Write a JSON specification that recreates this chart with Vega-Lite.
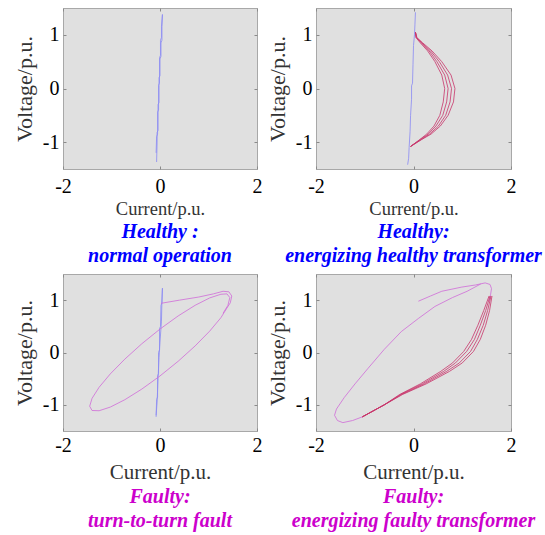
{
  "$schema": "https://vega.github.io/schema/vega-lite/v6.json",
  "background": "white",
  "padding": {"left": 12, "top": 7, "right": 0, "bottom": 0},
  "config": {
    "font": "Liberation Serif",
    "view": {"fill": "#e0e0e0", "stroke": "#a8a8a8", "strokeWidth": 1},
    "axis": {
      "grid": false, "domain": false, "labelFlush": false, "labelOverlap": false,
      "labelFont": "Liberation Serif", "labelFontSize": 20, "labelColor": "#000000",
      "tickColor": "#8a8a8a", "tickSize": -3, "labelPadding": 7,
      "titleFont": "Liberation Serif", "titleFontWeight": "normal", "titleColor": "#333333",
      "labelExpr": "replace(datum.label, '\u2212', '-')"
    },
    "title": {"font": "Liberation Serif", "fontSize": 20, "fontStyle": "italic", "fontWeight": "bold", "lineHeight": 24, "anchor": "middle", "orient": "bottom", "offset": 5}
  },
  "datasets": {
    "p1": [
      {"k": "b", "s": "b", "i": 0, "x": -0.07, "y": -1.37},
      {"k": "b", "s": "b", "i": 1, "x": -0.06, "y": -1.0},
      {"k": "b", "s": "b", "i": 2, "x": -0.06, "y": -0.82},
      {"k": "b", "s": "b", "i": 3, "x": -0.04, "y": -0.78},
      {"k": "b", "s": "b", "i": 4, "x": -0.04, "y": -0.3},
      {"k": "b", "s": "b", "i": 5, "x": -0.02, "y": -0.26},
      {"k": "b", "s": "b", "i": 6, "x": -0.02, "y": 0.2},
      {"k": "b", "s": "b", "i": 7, "x": 0.0, "y": 0.24},
      {"k": "b", "s": "b", "i": 8, "x": 0.0, "y": 0.55},
      {"k": "b", "s": "b", "i": 9, "x": 0.02, "y": 0.6},
      {"k": "b", "s": "b", "i": 10, "x": 0.02, "y": 0.85},
      {"k": "b", "s": "b", "i": 11, "x": 0.04, "y": 0.9},
      {"k": "b", "s": "b", "i": 12, "x": 0.04, "y": 1.15},
      {"k": "b", "s": "b", "i": 13, "x": 0.05, "y": 1.38},
      {"k": "b", "s": "b", "i": 14, "x": 0.03, "y": 1.15},
      {"k": "b", "s": "b", "i": 15, "x": 0.03, "y": 0.95},
      {"k": "b", "s": "b", "i": 16, "x": 0.01, "y": 0.9},
      {"k": "b", "s": "b", "i": 17, "x": 0.01, "y": 0.62},
      {"k": "b", "s": "b", "i": 18, "x": -0.01, "y": 0.57},
      {"k": "b", "s": "b", "i": 19, "x": -0.01, "y": 0.1},
      {"k": "b", "s": "b", "i": 20, "x": -0.03, "y": 0.06},
      {"k": "b", "s": "b", "i": 21, "x": -0.03, "y": -0.4},
      {"k": "b", "s": "b", "i": 22, "x": -0.05, "y": -0.44},
      {"k": "b", "s": "b", "i": 23, "x": -0.05, "y": -0.85},
      {"k": "b", "s": "b", "i": 24, "x": -0.07, "y": -0.9},
      {"k": "b", "s": "b", "i": 25, "x": -0.08, "y": -1.2}
    ],
    "p2": [
      {"k": "b", "s": "b", "i": 0, "x": -0.12, "y": -1.42},
      {"k": "b", "s": "b", "i": 1, "x": -0.1, "y": -1.3},
      {"k": "b", "s": "b", "i": 2, "x": -0.09, "y": -1.1},
      {"k": "b", "s": "b", "i": 3, "x": -0.07, "y": -0.8},
      {"k": "b", "s": "b", "i": 4, "x": -0.06, "y": -0.5},
      {"k": "b", "s": "b", "i": 5, "x": -0.04, "y": -0.2},
      {"k": "b", "s": "b", "i": 6, "x": -0.04, "y": 0.05},
      {"k": "b", "s": "b", "i": 7, "x": -0.02, "y": 0.1},
      {"k": "b", "s": "b", "i": 8, "x": -0.01, "y": 0.45},
      {"k": "b", "s": "b", "i": 9, "x": 0.0, "y": 0.8},
      {"k": "b", "s": "b", "i": 10, "x": 0.02, "y": 1.0},
      {"k": "b", "s": "b", "i": 11, "x": 0.03, "y": 1.2},
      {"k": "b", "s": "b", "i": 12, "x": 0.04, "y": 1.42},
      {"k": "r1", "s": "r", "i": 0, "x": 0.04, "y": 1.05},
      {"k": "r1", "s": "r", "i": 1, "x": 0.05, "y": 0.95},
      {"k": "r1", "s": "r", "i": 2, "x": 0.14, "y": 0.85},
      {"k": "r1", "s": "r", "i": 3, "x": 0.29, "y": 0.7},
      {"k": "r1", "s": "r", "i": 4, "x": 0.44, "y": 0.5},
      {"k": "r1", "s": "r", "i": 5, "x": 0.58, "y": 0.25},
      {"k": "r1", "s": "r", "i": 6, "x": 0.64, "y": 0.0},
      {"k": "r1", "s": "r", "i": 7, "x": 0.61, "y": -0.25},
      {"k": "r1", "s": "r", "i": 8, "x": 0.54, "y": -0.5},
      {"k": "r1", "s": "r", "i": 9, "x": 0.42, "y": -0.7},
      {"k": "r1", "s": "r", "i": 10, "x": 0.27, "y": -0.85},
      {"k": "r1", "s": "r", "i": 11, "x": 0.13, "y": -0.95},
      {"k": "r1", "s": "r", "i": 12, "x": -0.06, "y": -1.08},
      {"k": "r2", "s": "r", "i": 0, "x": 0.04, "y": 1.05},
      {"k": "r2", "s": "r", "i": 1, "x": 0.06, "y": 0.95},
      {"k": "r2", "s": "r", "i": 2, "x": 0.16, "y": 0.85},
      {"k": "r2", "s": "r", "i": 3, "x": 0.32, "y": 0.7},
      {"k": "r2", "s": "r", "i": 4, "x": 0.48, "y": 0.5},
      {"k": "r2", "s": "r", "i": 5, "x": 0.64, "y": 0.25},
      {"k": "r2", "s": "r", "i": 6, "x": 0.71, "y": 0.0},
      {"k": "r2", "s": "r", "i": 7, "x": 0.68, "y": -0.25},
      {"k": "r2", "s": "r", "i": 8, "x": 0.6, "y": -0.5},
      {"k": "r2", "s": "r", "i": 9, "x": 0.46, "y": -0.7},
      {"k": "r2", "s": "r", "i": 10, "x": 0.3, "y": -0.85},
      {"k": "r2", "s": "r", "i": 11, "x": 0.14, "y": -0.95},
      {"k": "r2", "s": "r", "i": 12, "x": -0.06, "y": -1.08},
      {"k": "r3", "s": "r", "i": 0, "x": 0.04, "y": 1.05},
      {"k": "r3", "s": "r", "i": 1, "x": 0.06, "y": 0.95},
      {"k": "r3", "s": "r", "i": 2, "x": 0.17, "y": 0.85},
      {"k": "r3", "s": "r", "i": 3, "x": 0.35, "y": 0.7},
      {"k": "r3", "s": "r", "i": 4, "x": 0.53, "y": 0.5},
      {"k": "r3", "s": "r", "i": 5, "x": 0.7, "y": 0.25},
      {"k": "r3", "s": "r", "i": 6, "x": 0.78, "y": 0.0},
      {"k": "r3", "s": "r", "i": 7, "x": 0.75, "y": -0.25},
      {"k": "r3", "s": "r", "i": 8, "x": 0.66, "y": -0.5},
      {"k": "r3", "s": "r", "i": 9, "x": 0.51, "y": -0.7},
      {"k": "r3", "s": "r", "i": 10, "x": 0.33, "y": -0.85},
      {"k": "r3", "s": "r", "i": 11, "x": 0.16, "y": -0.95},
      {"k": "r3", "s": "r", "i": 12, "x": -0.06, "y": -1.08},
      {"k": "r4", "s": "r", "i": 0, "x": 0.04, "y": 1.05},
      {"k": "r4", "s": "r", "i": 1, "x": 0.07, "y": 0.95},
      {"k": "r4", "s": "r", "i": 2, "x": 0.19, "y": 0.85},
      {"k": "r4", "s": "r", "i": 3, "x": 0.38, "y": 0.7},
      {"k": "r4", "s": "r", "i": 4, "x": 0.58, "y": 0.5},
      {"k": "r4", "s": "r", "i": 5, "x": 0.77, "y": 0.25},
      {"k": "r4", "s": "r", "i": 6, "x": 0.85, "y": 0.0},
      {"k": "r4", "s": "r", "i": 7, "x": 0.82, "y": -0.25},
      {"k": "r4", "s": "r", "i": 8, "x": 0.71, "y": -0.5},
      {"k": "r4", "s": "r", "i": 9, "x": 0.55, "y": -0.7},
      {"k": "r4", "s": "r", "i": 10, "x": 0.36, "y": -0.85},
      {"k": "r4", "s": "r", "i": 11, "x": 0.17, "y": -0.95},
      {"k": "r4", "s": "r", "i": 12, "x": -0.06, "y": -1.08}
    ],
    "p3": [
      {"k": "b", "s": "b", "i": 0, "x": -0.08, "y": -1.23},
      {"k": "b", "s": "b", "i": 1, "x": -0.07, "y": -0.9},
      {"k": "b", "s": "b", "i": 2, "x": -0.05, "y": -0.85},
      {"k": "b", "s": "b", "i": 3, "x": -0.05, "y": -0.45},
      {"k": "b", "s": "b", "i": 4, "x": -0.03, "y": -0.4},
      {"k": "b", "s": "b", "i": 5, "x": -0.03, "y": 0.0},
      {"k": "b", "s": "b", "i": 6, "x": -0.01, "y": 0.05},
      {"k": "b", "s": "b", "i": 7, "x": -0.01, "y": 0.45},
      {"k": "b", "s": "b", "i": 8, "x": 0.01, "y": 0.5},
      {"k": "b", "s": "b", "i": 9, "x": 0.02, "y": 0.9},
      {"k": "b", "s": "b", "i": 10, "x": 0.04, "y": 0.95},
      {"k": "b", "s": "b", "i": 11, "x": 0.05, "y": 1.23},
      {"k": "b", "s": "b", "i": 12, "x": 0.04, "y": 1.0},
      {"k": "b", "s": "b", "i": 13, "x": 0.03, "y": 0.6},
      {"k": "b", "s": "b", "i": 14, "x": 0.0, "y": 0.2},
      {"k": "b", "s": "b", "i": 15, "x": -0.02, "y": -0.1},
      {"k": "b", "s": "b", "i": 16, "x": -0.04, "y": -0.5},
      {"k": "b", "s": "b", "i": 17, "x": -0.06, "y": -0.95},
      {"k": "b", "s": "b", "i": 18, "x": -0.08, "y": -1.2},
      {"k": "m", "s": "m", "i": 0, "x": 0.02, "y": 0.94},
      {"k": "m", "s": "m", "i": 1, "x": 0.4, "y": 1.0},
      {"k": "m", "s": "m", "i": 2, "x": 0.8, "y": 1.06},
      {"k": "m", "s": "m", "i": 3, "x": 1.1, "y": 1.12},
      {"k": "m", "s": "m", "i": 4, "x": 1.3, "y": 1.17},
      {"k": "m", "s": "m", "i": 5, "x": 1.42, "y": 1.16},
      {"k": "m", "s": "m", "i": 6, "x": 1.48, "y": 1.08},
      {"k": "m", "s": "m", "i": 7, "x": 1.45, "y": 0.95},
      {"k": "m", "s": "m", "i": 8, "x": 1.38, "y": 0.85},
      {"k": "m", "s": "m", "i": 9, "x": 1.256, "y": 0.665},
      {"k": "m", "s": "m", "i": 10, "x": 1.025, "y": 0.409},
      {"k": "m", "s": "m", "i": 11, "x": 0.725, "y": 0.126},
      {"k": "m", "s": "m", "i": 12, "x": 0.375, "y": -0.167},
      {"k": "m", "s": "m", "i": 13, "x": 0.0, "y": -0.448},
      {"k": "m", "s": "m", "i": 14, "x": -0.375, "y": -0.699},
      {"k": "m", "s": "m", "i": 15, "x": -0.725, "y": -0.902},
      {"k": "m", "s": "m", "i": 16, "x": -1.025, "y": -1.043},
      {"k": "m", "s": "m", "i": 17, "x": -1.256, "y": -1.113},
      {"k": "m", "s": "m", "i": 18, "x": -1.401, "y": -1.108},
      {"k": "m", "s": "m", "i": 19, "x": -1.45, "y": -1.027},
      {"k": "m", "s": "m", "i": 20, "x": -1.401, "y": -0.876},
      {"k": "m", "s": "m", "i": 21, "x": -1.256, "y": -0.665},
      {"k": "m", "s": "m", "i": 22, "x": -1.025, "y": -0.409},
      {"k": "m", "s": "m", "i": 23, "x": -0.725, "y": -0.126},
      {"k": "m", "s": "m", "i": 24, "x": -0.375, "y": 0.167},
      {"k": "m", "s": "m", "i": 25, "x": 0.0, "y": 0.448},
      {"k": "m", "s": "m", "i": 26, "x": 0.375, "y": 0.699},
      {"k": "m", "s": "m", "i": 27, "x": 0.725, "y": 0.902},
      {"k": "m", "s": "m", "i": 28, "x": 1.025, "y": 1.043},
      {"k": "m", "s": "m", "i": 29, "x": 1.256, "y": 1.113},
      {"k": "m", "s": "m", "i": 30, "x": 1.38, "y": 1.12},
      {"k": "m", "s": "m", "i": 31, "x": 1.44, "y": 1.05},
      {"k": "m", "s": "m", "i": 32, "x": 1.4, "y": 0.9},
      {"k": "m", "s": "m", "i": 33, "x": 1.3, "y": 0.75}
    ],
    "p4": [
      {"k": "ma", "s": "m", "i": 0, "x": 0.1, "y": 0.98},
      {"k": "ma", "s": "m", "i": 1, "x": 0.35, "y": 1.08},
      {"k": "ma", "s": "m", "i": 2, "x": 0.58, "y": 1.17},
      {"k": "ma", "s": "m", "i": 3, "x": 0.99, "y": 1.25},
      {"k": "ma", "s": "m", "i": 4, "x": 1.27, "y": 1.29},
      {"k": "ma", "s": "m", "i": 5, "x": 1.47, "y": 1.33},
      {"k": "ma", "s": "m", "i": 6, "x": 1.57, "y": 1.3},
      {"k": "ma", "s": "m", "i": 7, "x": 1.6, "y": 1.22},
      {"k": "ma", "s": "m", "i": 8, "x": 1.58, "y": 1.1},
      {"k": "ma", "s": "m", "i": 9, "x": 1.55, "y": 0.98},
      {"k": "mb", "s": "m", "i": 0, "x": 1.38, "y": 1.31},
      {"k": "mb", "s": "m", "i": 1, "x": 1.1, "y": 1.17},
      {"k": "mb", "s": "m", "i": 2, "x": 0.8, "y": 1.05},
      {"k": "mb", "s": "m", "i": 3, "x": 0.44, "y": 0.88},
      {"k": "mb", "s": "m", "i": 4, "x": 0.1, "y": 0.65},
      {"k": "mb", "s": "m", "i": 5, "x": -0.25, "y": 0.4},
      {"k": "mb", "s": "m", "i": 6, "x": -0.6, "y": 0.06},
      {"k": "mb", "s": "m", "i": 7, "x": -0.93, "y": -0.3},
      {"k": "mb", "s": "m", "i": 8, "x": -1.2, "y": -0.6},
      {"k": "mb", "s": "m", "i": 9, "x": -1.42, "y": -0.86},
      {"k": "mb", "s": "m", "i": 10, "x": -1.58, "y": -1.08},
      {"k": "mb", "s": "m", "i": 11, "x": -1.62, "y": -1.2},
      {"k": "mb", "s": "m", "i": 12, "x": -1.56, "y": -1.3},
      {"k": "mb", "s": "m", "i": 13, "x": -1.45, "y": -1.34},
      {"k": "mb", "s": "m", "i": 14, "x": -1.25, "y": -1.3},
      {"k": "mb", "s": "m", "i": 15, "x": -1.05, "y": -1.23},
      {"k": "r1", "s": "r", "i": 0, "x": -1.05, "y": -1.23},
      {"k": "r1", "s": "r", "i": 1, "x": -0.6, "y": -1.0},
      {"k": "r1", "s": "r", "i": 2, "x": -0.28, "y": -0.8},
      {"k": "r1", "s": "r", "i": 3, "x": 0.14, "y": -0.6},
      {"k": "r1", "s": "r", "i": 4, "x": 0.56, "y": -0.36},
      {"k": "r1", "s": "r", "i": 5, "x": 0.8, "y": -0.2},
      {"k": "r1", "s": "r", "i": 6, "x": 1.03, "y": 0.02},
      {"k": "r1", "s": "r", "i": 7, "x": 1.19, "y": 0.25},
      {"k": "r1", "s": "r", "i": 8, "x": 1.32, "y": 0.52},
      {"k": "r1", "s": "r", "i": 9, "x": 1.44, "y": 0.8},
      {"k": "r1", "s": "r", "i": 10, "x": 1.55, "y": 1.08},
      {"k": "r2", "s": "r", "i": 0, "x": -1.05, "y": -1.23},
      {"k": "r2", "s": "r", "i": 1, "x": -0.6, "y": -1.0},
      {"k": "r2", "s": "r", "i": 2, "x": -0.26, "y": -0.8},
      {"k": "r2", "s": "r", "i": 3, "x": 0.18, "y": -0.6},
      {"k": "r2", "s": "r", "i": 4, "x": 0.62, "y": -0.36},
      {"k": "r2", "s": "r", "i": 5, "x": 0.86, "y": -0.2},
      {"k": "r2", "s": "r", "i": 6, "x": 1.09, "y": 0.02},
      {"k": "r2", "s": "r", "i": 7, "x": 1.25, "y": 0.25},
      {"k": "r2", "s": "r", "i": 8, "x": 1.37, "y": 0.52},
      {"k": "r2", "s": "r", "i": 9, "x": 1.48, "y": 0.8},
      {"k": "r2", "s": "r", "i": 10, "x": 1.57, "y": 1.08},
      {"k": "r3", "s": "r", "i": 0, "x": -1.05, "y": -1.23},
      {"k": "r3", "s": "r", "i": 1, "x": -0.6, "y": -1.0},
      {"k": "r3", "s": "r", "i": 2, "x": -0.24, "y": -0.8},
      {"k": "r3", "s": "r", "i": 3, "x": 0.22, "y": -0.6},
      {"k": "r3", "s": "r", "i": 4, "x": 0.68, "y": -0.36},
      {"k": "r3", "s": "r", "i": 5, "x": 0.94, "y": -0.2},
      {"k": "r3", "s": "r", "i": 6, "x": 1.17, "y": 0.02},
      {"k": "r3", "s": "r", "i": 7, "x": 1.31, "y": 0.25},
      {"k": "r3", "s": "r", "i": 8, "x": 1.43, "y": 0.52},
      {"k": "r3", "s": "r", "i": 9, "x": 1.52, "y": 0.8},
      {"k": "r3", "s": "r", "i": 10, "x": 1.59, "y": 1.08},
      {"k": "r4", "s": "r", "i": 0, "x": -1.05, "y": -1.23},
      {"k": "r4", "s": "r", "i": 1, "x": -0.6, "y": -1.0},
      {"k": "r4", "s": "r", "i": 2, "x": -0.22, "y": -0.8},
      {"k": "r4", "s": "r", "i": 3, "x": 0.26, "y": -0.6},
      {"k": "r4", "s": "r", "i": 4, "x": 0.74, "y": -0.36},
      {"k": "r4", "s": "r", "i": 5, "x": 1.0, "y": -0.2},
      {"k": "r4", "s": "r", "i": 6, "x": 1.23, "y": 0.02},
      {"k": "r4", "s": "r", "i": 7, "x": 1.37, "y": 0.25},
      {"k": "r4", "s": "r", "i": 8, "x": 1.48, "y": 0.52},
      {"k": "r4", "s": "r", "i": 9, "x": 1.56, "y": 0.8},
      {"k": "r4", "s": "r", "i": 10, "x": 1.61, "y": 1.08}
    ]
  },
  "columns": 2,
  "bounds": "flush",
  "spacing": {"row": 105, "column": 59},
  "concat": [
    {
      "width": 194, "height": 161,
      "data": {"name": "p1"},
      "title": {"text": ["Healthy :", "normal operation"], "color": "#0000ff", "font": "Liberation Serif", "fontStyle": "italic", "fontWeight": "bold", "fontSize": 20, "offset": 4},
      "layer": [
        {
          "mark": {"type": "line", "strokeWidth": 1, "opacity": 0.8},
          "encoding": {
            "x": {"field": "x", "type": "quantitative", "scale": {"domain": [-2, 2], "nice": false, "zero": false}, "axis": {"values": [-2, 0, 2], "title": "Current/p.u.", "titleFont": "Liberation Serif", "labelFont": "Liberation Serif", "titleFontSize": 18.5, "titlePadding": 3, "labelPadding": 10}},
            "y": {"field": "y", "type": "quantitative", "scale": {"domain": [-1.5, 1.5], "nice": false, "zero": false}, "axis": {"values": [-1, 0, 1], "title": "Voltage/p.u.", "titleFont": "Liberation Serif", "labelFont": "Liberation Serif", "titleFontSize": 22, "titlePadding": 6}},
            "color": {"field": "s", "type": "nominal", "scale": {"domain": ["b", "r", "m"], "range": ["#8a8af4", "#c8346a", "#d06cd8"]}, "legend": null},
            "detail": {"field": "k"},
            "order": {"field": "i"}
          }
        },
        {
          "mark": {"type": "point", "opacity": 0},
          "encoding": {
            "x": {"field": "x", "type": "quantitative", "scale": {"domain": [-2, 2], "nice": false, "zero": false}, "axis": {"orient": "top", "values": [-2, 0, 2], "labels": false, "title": null}},
            "y": {"field": "y", "type": "quantitative", "scale": {"domain": [-1.5, 1.5], "nice": false, "zero": false}, "axis": {"orient": "right", "values": [-1, 0, 1], "labels": false, "title": null}}
          }
        }
      ],
      "resolve": {"axis": {"x": "independent", "y": "independent"}}
    },
    {
      "width": 195, "height": 161,
      "data": {"name": "p2"},
      "title": {"text": ["Healthy:", "energizing healthy transformer"], "color": "#0000ff", "font": "Liberation Serif", "fontStyle": "italic", "fontWeight": "bold", "fontSize": 20, "offset": 4},
      "layer": [
        {
          "mark": {"type": "line", "strokeWidth": 1, "opacity": 0.8},
          "encoding": {
            "x": {"field": "x", "type": "quantitative", "scale": {"domain": [-2, 2], "nice": false, "zero": false}, "axis": {"values": [-2, 0, 2], "title": "Current/p.u.", "titleFont": "Liberation Serif", "labelFont": "Liberation Serif", "titleFontSize": 18.5, "titlePadding": 3, "labelPadding": 10}},
            "y": {"field": "y", "type": "quantitative", "scale": {"domain": [-1.5, 1.5], "nice": false, "zero": false}, "axis": {"values": [-1, 0, 1], "title": "Voltage/p.u.", "titleFont": "Liberation Serif", "labelFont": "Liberation Serif", "titleFontSize": 22, "titlePadding": 6}},
            "color": {"field": "s", "type": "nominal", "scale": {"domain": ["b", "r", "m"], "range": ["#8a8af4", "#c8346a", "#d06cd8"]}, "legend": null},
            "detail": {"field": "k"},
            "order": {"field": "i"}
          }
        },
        {
          "mark": {"type": "point", "opacity": 0},
          "encoding": {
            "x": {"field": "x", "type": "quantitative", "scale": {"domain": [-2, 2], "nice": false, "zero": false}, "axis": {"orient": "top", "values": [-2, 0, 2], "labels": false, "title": null}},
            "y": {"field": "y", "type": "quantitative", "scale": {"domain": [-1.5, 1.5], "nice": false, "zero": false}, "axis": {"orient": "right", "values": [-1, 0, 1], "labels": false, "title": null}}
          }
        }
      ],
      "resolve": {"axis": {"x": "independent", "y": "independent"}}
    },
    {
      "width": 194, "height": 157,
      "data": {"name": "p3"},
      "title": {"text": ["Faulty:", "turn-to-turn fault"], "color": "#cc00cc", "font": "Liberation Serif", "fontStyle": "italic", "fontWeight": "bold", "fontSize": 20},
      "layer": [
        {
          "mark": {"type": "line", "strokeWidth": 1, "opacity": 0.8},
          "encoding": {
            "x": {"field": "x", "type": "quantitative", "scale": {"domain": [-2, 2], "nice": false, "zero": false}, "axis": {"values": [-2, 0, 2], "title": "Current/p.u.", "titleFont": "Liberation Serif", "labelFont": "Liberation Serif", "titleFontSize": 21, "titlePadding": 6}},
            "y": {"field": "y", "type": "quantitative", "scale": {"domain": [-1.5, 1.5], "nice": false, "zero": false}, "axis": {"values": [-1, 0, 1], "title": "Voltage/p.u.", "titleFont": "Liberation Serif", "labelFont": "Liberation Serif", "titleFontSize": 22, "titlePadding": 6}},
            "color": {"field": "s", "type": "nominal", "scale": {"domain": ["b", "r", "m"], "range": ["#8a8af4", "#e0306a", "#d06cd8"]}, "legend": null},
            "detail": {"field": "k"},
            "order": {"field": "i"}
          }
        },
        {
          "mark": {"type": "point", "opacity": 0},
          "encoding": {
            "x": {"field": "x", "type": "quantitative", "scale": {"domain": [-2, 2], "nice": false, "zero": false}, "axis": {"orient": "top", "values": [-2, 0, 2], "labels": false, "title": null}},
            "y": {"field": "y", "type": "quantitative", "scale": {"domain": [-1.5, 1.5], "nice": false, "zero": false}, "axis": {"orient": "right", "values": [-1, 0, 1], "labels": false, "title": null}}
          }
        }
      ],
      "resolve": {"axis": {"x": "independent", "y": "independent"}}
    },
    {
      "width": 195, "height": 157,
      "data": {"name": "p4"},
      "title": {"text": ["Faulty:", "energizing faulty transformer"], "color": "#cc00cc", "font": "Liberation Serif", "fontStyle": "italic", "fontWeight": "bold", "fontSize": 20},
      "layer": [
        {
          "mark": {"type": "line", "strokeWidth": 1, "opacity": 0.8},
          "encoding": {
            "x": {"field": "x", "type": "quantitative", "scale": {"domain": [-2, 2], "nice": false, "zero": false}, "axis": {"values": [-2, 0, 2], "title": "Current/p.u.", "titleFont": "Liberation Serif", "labelFont": "Liberation Serif", "titleFontSize": 21, "titlePadding": 6}},
            "y": {"field": "y", "type": "quantitative", "scale": {"domain": [-1.5, 1.5], "nice": false, "zero": false}, "axis": {"values": [-1, 0, 1], "title": "Voltage/p.u.", "titleFont": "Liberation Serif", "labelFont": "Liberation Serif", "titleFontSize": 22, "titlePadding": 6}},
            "color": {"field": "s", "type": "nominal", "scale": {"domain": ["b", "r", "m"], "range": ["#8a8af4", "#e0306a", "#d06cd8"]}, "legend": null},
            "detail": {"field": "k"},
            "order": {"field": "i"}
          }
        },
        {
          "mark": {"type": "point", "opacity": 0},
          "encoding": {
            "x": {"field": "x", "type": "quantitative", "scale": {"domain": [-2, 2], "nice": false, "zero": false}, "axis": {"orient": "top", "values": [-2, 0, 2], "labels": false, "title": null}},
            "y": {"field": "y", "type": "quantitative", "scale": {"domain": [-1.5, 1.5], "nice": false, "zero": false}, "axis": {"orient": "right", "values": [-1, 0, 1], "labels": false, "title": null}}
          }
        }
      ],
      "resolve": {"axis": {"x": "independent", "y": "independent"}}
    }
  ]
}
